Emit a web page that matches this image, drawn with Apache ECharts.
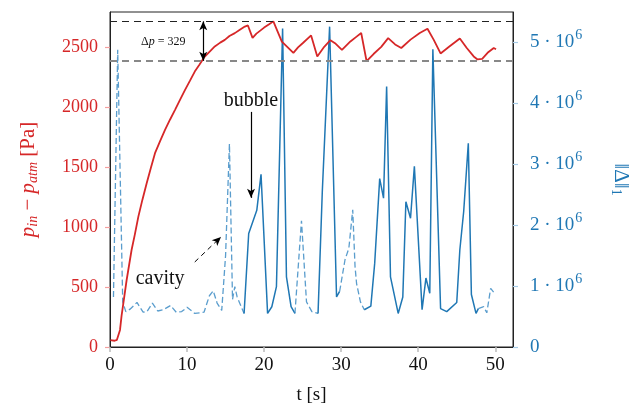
<!DOCTYPE html>
<html><head><meta charset="utf-8">
<script src="https://cdn.jsdelivr.net/npm/echarts@6/dist/echarts.min.js"></script>
<style>html,body{margin:0;padding:0;background:#fff}#c{width:633px;height:406px}</style>
</head><body><div id="c"></div>
<script>
// ---- data ----
const pressure = [
  [0.05,58],[0.3,62],[0.6,52],[0.9,60],[1.05,55],[1.3,142],[1.5,260],[1.73,364],[2.16,558],[2.8,808],
  [3.2,930],[3.68,1086],[4.2,1225],[4.76,1364],[5.3,1490],[5.84,1614],[6.5,1715],[7.14,1808],[7.8,1895],[8.44,1975],
  [9.1,2060],[9.74,2142],[10.4,2220],[11.0,2294],[11.6,2350],[12.3,2419],[13.0,2465],[13.6,2503],[14.3,2535],
  [14.9,2558],[15.5,2590],[16.2,2614],[16.9,2645],[17.5,2669],[17.9,2678],[18.5,2575],
  [19.0,2610],[20.0,2660],[20.6,2685],[21.2,2712],[22.3,2544],[23.0,2500],[23.8,2450],[24.4,2495],[25.0,2530],[26.1,2595],
  [26.9,2420],[27.8,2500],[28.6,2555],[29.2,2530],[30.1,2475],[31.2,2545],[32.0,2585],[32.6,2615],
  [33.3,2380],[34.2,2440],[35.2,2500],[36.1,2572],[37.0,2520],[37.8,2490],[39.0,2560],
  [40.2,2615],[41.2,2650],[42.0,2560],[42.9,2445],[44.0,2500],[45.4,2570],[46.3,2490],
  [47.2,2420],[47.7,2395],[48.3,2400],[49.0,2450],[49.8,2490],[50.1,2480]
];
// ||Δ||_1 in units of 1e6; dashed = cavity phases, solid = bubble phases
const cavity1 = [[0.45,0.82],[1.0,4.87],[1.65,0.74],[2.05,0.58],[2.6,0.62],[3.5,0.73],[4.3,0.57],
  [4.8,0.58],[5.5,0.72],[6.2,0.59],[6.9,0.61],[7.85,0.68],[8.6,0.57],[9.3,0.58],[10.0,0.65],
  [11.0,0.55],[12.2,0.57],[12.9,0.84],[13.4,0.92],[13.9,0.72],[14.5,0.60],[15.0,1.5],[15.5,3.33],
  [15.9,0.78],[16.2,0.99],[16.5,0.82],[17.4,0.55]];
const bubble1 = [[17.4,0.55],[18.0,1.86],[19.05,2.24],[19.6,2.83],[20.45,0.55],[21.0,0.66],
  [21.6,0.99],[22.4,5.22],[22.9,1.15],[23.5,0.66],[24.0,0.55]];
const cavity2 = [[24.0,0.55],[24.85,2.07],[25.5,0.74],[26.2,0.58],[27.0,0.55]];
const bubble2 = [[27.0,0.55],[27.55,2.54],[28.5,5.25],[29.4,0.82],[29.8,0.91]];
const cavity3 = [[29.8,0.91],[30.5,1.43],[31.0,1.62],[31.5,2.25],[31.8,1.32],[32.0,1.04],
  [32.5,0.74],[33.0,0.61]];
const bubble3 = [[33.0,0.61],[33.85,0.67],[34.35,1.37],[35.0,2.76],[35.5,2.44],[35.9,4.27],
  [36.4,1.15],[37.4,0.55],[38.0,0.82],[38.4,2.38],[39.0,2.11],[39.5,2.96],[40.5,0.61],
  [41.0,1.13],[41.5,0.88],[41.9,4.88],[42.9,0.63],[43.7,0.58],[45.0,0.73],[45.4,1.59],
  [45.9,2.22],[46.5,3.34],[46.9,0.86],[47.5,0.55],[47.8,0.63]];
const cavity4 = [[47.8,0.63],[48.5,0.66],[48.9,0.56],[49.4,0.96],[49.9,0.88]];

const xTicks = [0,10,20,30,40,50];
const pTicks = [0,500,1000,1500,2000,2500];
const gTicks = [0,1,2,3,4,5];
const deltaLevels = [2712, 2383];   // Δp = 329
const deltaArrowT = 12.1;
const bubbleArrow = [[18.3,1958],[18.3,1242]];
const cavityArrow = [[11.0,708],[14.4,917]];
const notes = [
  {coord:[6.9,2545], text:'{n|Δ}{i|p}{n| = 329}', size:12},
  {coord:[18.3,2050], text:'{b|bubble}', size:20},
  {coord:[6.5,567], text:'{b|cavity}', size:20}
];

// ---- chart ----
const RED = '#d62728', BLUE = '#1f77b4';
const SERIF = 'Liberation Serif';
const chart = echarts.init(document.getElementById('c'), null, {renderer:'canvas'});

function blueSeries(data, dashed){
  return {
    type:'line', yAxisIndex:1, data:data, symbol:'none', animation:false, z:2,
    lineStyle: dashed ? {color:'#3d8cc4', width:1.3, type:[6,3], opacity:0.85}
                      : {color:BLUE, width:1.5}
  };
}

const option = {
  animation:false,
  grid:{left:110, right:120, top:12, bottom:59, containLabel:false, outerBoundsMode:'none',
    show:true, borderColor:'#222', borderWidth:1, backgroundColor:'transparent'},
  xAxis:{
    type:'value', min:0, max:52.3, interval:10,
    name:'t [s]', nameLocation:'middle', nameGap:39,
    nameTextStyle:{fontFamily:SERIF, fontSize:19, color:'#111'},
    axisLine:{lineStyle:{color:'#222', width:1}},
    axisTick:{show:true, inside:false, length:5, lineStyle:{color:'#bbb', width:1.5},
      customValues: xTicks},
    axisLabel:{fontFamily:SERIF, fontSize:19, color:'#111', margin:9, customValues: xTicks},
    splitLine:{show:false}
  },
  yAxis:[{
    type:'value', min:0, max:2790, interval:500, position:'left',
    name:'{i|p}{s|in}{n| − }{i|p}{s|atm}{n| [Pa]}', nameLocation:'middle', nameGap:70,
    nameTextStyle:{color:RED, fontFamily:SERIF, rich:{
      i:{fontSize:21, fontStyle:'italic', color:RED, fontFamily:SERIF},
      s:{fontSize:14, fontStyle:'italic', color:RED, fontFamily:SERIF, padding:[9,0,0,0]},
      n:{fontSize:21, color:RED, fontFamily:SERIF}
    }},
    axisLine:{show:true, lineStyle:{color:'#222'}},
    axisTick:{show:true, length:5, lineStyle:{color:'#f2a0a0', width:1.2}, customValues:pTicks},
    axisLabel:{fontFamily:SERIF, fontSize:18, color:RED, margin:12, customValues:pTicks,
      formatter:function(v){ return String(v); }},
    splitLine:{show:false}
  },{
    type:'value', min:0, max:5.49, interval:1, position:'right', alignTicks:false,
    name:'{n|‖Δ‖}{s|1}', nameLocation:'middle', nameGap:96, nameRotate:-90,
    nameTextStyle:{color:BLUE, fontFamily:SERIF, rich:{
      n:{fontSize:21, color:BLUE, fontFamily:SERIF},
      s:{fontSize:14, color:BLUE, fontFamily:SERIF, padding:[9,0,0,0]}
    }},
    axisLine:{show:true, lineStyle:{color:'#222'}},
    axisTick:{show:true, length:5, lineStyle:{color:'#a6cbe6', width:1.2}, customValues:gTicks},
    axisLabel:{fontFamily:SERIF, fontSize:19, color:BLUE, margin:17, customValues:gTicks,
      formatter:function(v){ return v===0 ? '{n|0}' : '{n|'+v+' · 10}{s|6}'; },
      rich:{n:{fontSize:19, color:BLUE, fontFamily:SERIF},
            s:{fontSize:14, color:BLUE, fontFamily:SERIF, padding:[0,0,13,1]}}},
    splitLine:{show:false}
  }],
  series:[
    blueSeries(cavity1,true), blueSeries(bubble1,false), blueSeries(cavity2,true),
    blueSeries(bubble2,false), blueSeries(cavity3,true), blueSeries(bubble3,false),
    blueSeries(cavity4,true),
    {
      type:'line', yAxisIndex:0, data:pressure, symbol:'none', z:3,
      lineStyle:{color:RED, width:1.8},
      markLine:{
        silent:true, animation:false, symbol:'none', label:{show:false},
        data:[
          [{coord:[0,deltaLevels[0]]},{coord:[52.3,deltaLevels[0]]}],
          [{coord:[0,deltaLevels[1]]},{coord:[52.3,deltaLevels[1]], lineStyle:{color:'#888', width:2, type:[7,5]}}],
          [{coord:[deltaArrowT,deltaLevels[0]], symbol:'arrow', symbolSize:[6,9]},
           {coord:[deltaArrowT,deltaLevels[1]], symbol:'arrow', symbolSize:[6,9], lineStyle:{color:'#000', width:1.2, type:'solid'}}],
          [{coord:bubbleArrow[0], symbol:'none'},
           {coord:bubbleArrow[1], symbol:'arrow', symbolSize:[6,9], lineStyle:{color:'#000', width:1.2, type:'solid'}}],
          [{coord:cavityArrow[0], symbol:'none'},
           {coord:cavityArrow[1], symbol:'arrow', symbolSize:[6,9], lineStyle:{color:'#000', width:1, type:[5,4]}}]
        ],
        lineStyle:{color:'#222', width:1, type:[7,5]}
      },
      markPoint:{
        silent:true, animation:false,
        data: notes.map(n => ({coord:n.coord, symbol:'rect', symbolSize:1,
          itemStyle:{color:'rgba(0,0,0,0)'},
          label:{show:true, position:'inside', formatter:n.text,
            rich:{
              n:{fontSize:n.size, color:'#111', fontFamily:SERIF},
              i:{fontSize:n.size, color:'#111', fontFamily:SERIF, fontStyle:'italic'},
              b:{fontSize:n.size, color:'#111', fontFamily:SERIF}
            }}}))
      }
    }
  ]
};
chart.setOption(option);
</script></body></html>
